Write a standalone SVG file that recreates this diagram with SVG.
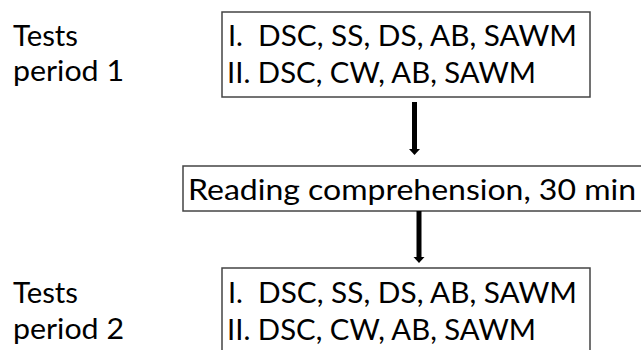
<svg xmlns="http://www.w3.org/2000/svg" width="641" height="350" viewBox="0 0 641 350">
<style>
text{font-family:Lato,"Open Sans",sans-serif;font-size:29px;fill:#000}
.box{fill:#fff;stroke:#444;stroke-width:1.5}
.conn{stroke:#000;stroke-width:5;fill:none}
.head{fill:#000}
</style>
<rect width="641" height="350" fill="#fff"/>
<g id="label-period1">
<text x="13" y="46" textLength="65" lengthAdjust="spacingAndGlyphs">Tests</text>
<text x="13" y="81" textLength="111" lengthAdjust="spacingAndGlyphs">period 1</text>
</g>
<g id="tests-period1">
<rect class="box" x="222" y="12" width="368" height="85"/>
<text x="228" y="46">I.</text>
<text x="258" y="46" textLength="319" lengthAdjust="spacingAndGlyphs">DSC, SS, DS, AB, SAWM</text>
<text x="227" y="83" textLength="309" lengthAdjust="spacingAndGlyphs">II. DSC, CW, AB, SAWM</text>
</g>
<g id="reading">
<rect class="box" x="183" y="166" width="470" height="45"/>
<text x="188" y="200" textLength="448" lengthAdjust="spacingAndGlyphs">Reading comprehension, 30 min</text>
</g>
<g id="label-period2">
<text x="13" y="303" textLength="65" lengthAdjust="spacingAndGlyphs">Tests</text>
<text x="13" y="339" textLength="111" lengthAdjust="spacingAndGlyphs">period 2</text>
</g>
<g id="tests-period2">
<path class="box" d="M222,352 V268 H590 V352"/>
<text x="228" y="303">I.</text>
<text x="258" y="303" textLength="319" lengthAdjust="spacingAndGlyphs">DSC, SS, DS, AB, SAWM</text>
<text x="227" y="340" textLength="309" lengthAdjust="spacingAndGlyphs">II. DSC, CW, AB, SAWM</text>
</g>
<g id="connectors">
<line class="conn" x1="414.5" y1="102" x2="414.5" y2="150"/>
<polygon class="head" points="409,149 420,149 414.5,155"/>
<line class="conn" x1="419" y1="211" x2="419" y2="258"/>
<polygon class="head" points="413.5,257 424.5,257 419,263"/>
</g>
</svg>
